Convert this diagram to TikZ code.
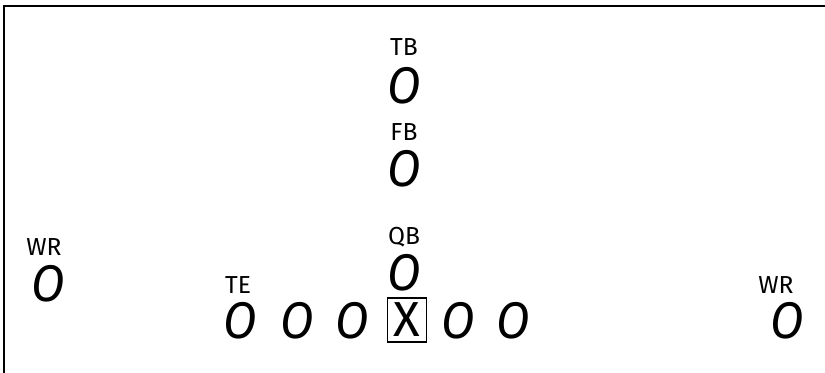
\documentclass[tikz,border=0pt]{standalone}
\usepackage{fontspec}
\setmainfont{Fira Sans}
\usetikzlibrary{positioning}

\begin{document}
\begin{tikzpicture}[
    x=0.03cm, y=-0.03cm,
    tag/.style={inner sep=0pt, font=\fontsize{21}{21}\selectfont},
    player/.style={inner sep=0pt, xscale=0.95, font=\fontsize{44}{44}\selectfont\itshape},
    center/.style={draw, line width=1pt, inner sep=3pt, minimum width=1.17cm, minimum height=1.32cm, font=\fontsize{42}{42}\selectfont},
    frame/.style={line width=1.5pt}
]
\useasboundingbox (0,0) rectangle (825,373);

% Frame (cut at right and bottom)
\coordinate (fbl) at (4,373);
\coordinate (ftl) at (4,6);
\coordinate (ftr) at (825,6);
\draw [frame] (fbl) -- (ftl) -- (ftr);

% Backfield
\node (tbtag) [tag] at (404,47) {TB};
\node (tb) [player] at (404,86) {O};
\node (fbtag) [tag] at (404,132) {FB};
\node (fb) [player] at (404,169) {O};
\node (qbtag) [tag] at (404,237) {QB};
\node (qb) [player] at (404,273) {O};

% Receivers
\node (wrltag) [tag] at (44,247) {WR};
\node (wrl) [player] at (48,284) {O};
\node (wrrtag) [tag] at (776,285) {WR};
\node (wrr) [player] at (787,321) {O};

% Line
\node (tetag) [tag] at (238,285) {TE};
\node (te) [player] at (240,321) {O};
\node (lt) [player] at (297,321) {O};
\node (lg) [player] at (352,321) {O};
\node (c) [center] at (407,320) {X};
\node (rg) [player] at (458,321) {O};
\node (rt) [player] at (513,321) {O};

\end{tikzpicture}
\end{document}
